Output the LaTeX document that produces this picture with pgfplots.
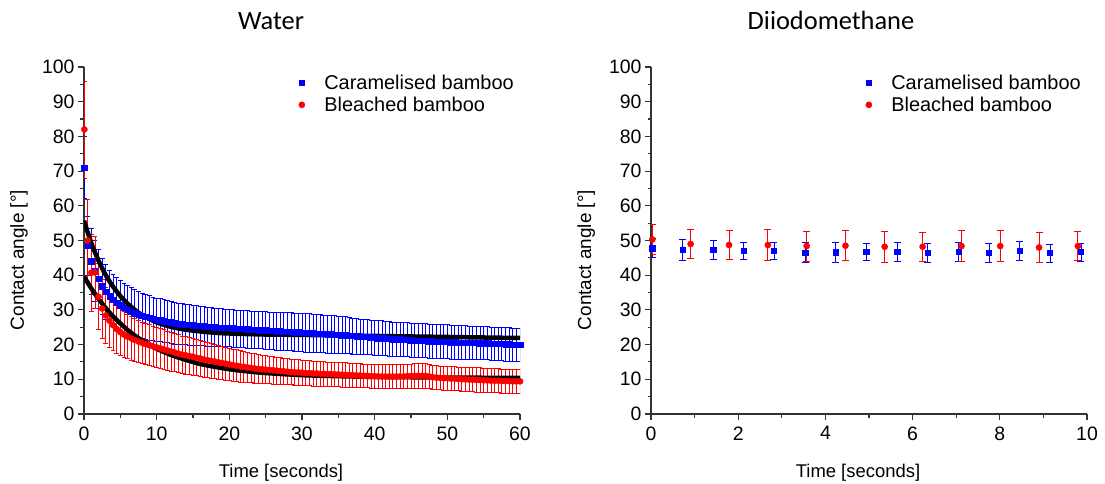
\documentclass[border=0pt]{standalone}
\usepackage{pgfplots}
\pgfplotsset{compat=1.18}
\usepackage{pgfplotstable}
\usepackage{fontspec}
\setmainfont{Liberation Sans}
\newfontfamily\titlefont{Carlito}

\definecolor{cblue}{RGB}{0,0,255}
\definecolor{cred}{RGB}{255,0,0}

% Water, caramelised bamboo: time, angle, sd
\pgfplotstableread{
x y e
0.05 71.0 9.0
0.5 48.5 8.5
1.0 44.0 9.5
1.5 41.2 8.8
2.0 39.0 8.5
2.5 36.8 8.0
3.0 35.2 7.8
3.5 33.9 7.6
4.0 32.9 7.4
4.5 32.0 7.3
5.0 31.3 7.2
5.5 30.6 7.1
6.0 30.0 7.0
6.5 29.5 6.9
7.0 29.1 6.8
7.5 28.7 6.7
8.0 28.3 6.6
8.5 28.0 6.5
9.0 27.7 6.4
9.5 27.4 6.3
10.0 27.2 6.2
10.5 27.0 6.2
11.0 26.8 6.1
11.5 26.6 6.1
12.0 26.4 6.0
12.5 26.2 6.0
13.0 26.1 5.9
13.5 25.9 5.9
14.0 25.8 5.8
14.5 25.7 5.8
15.0 25.6 5.7
15.5 25.5 5.7
16.0 25.4 5.6
16.5 25.3 5.6
17.0 25.2 5.6
17.5 25.1 5.5
18.0 25.0 5.5
18.5 24.9 5.5
19.0 24.9 5.5
19.5 24.8 5.4
20.0 24.8 5.4
20.5 24.7 5.4
21.0 24.6 5.4
21.5 24.5 5.4
22.0 24.5 5.4
22.5 24.4 5.4
23.0 24.3 5.4
23.5 24.3 5.4
24.0 24.2 5.4
24.5 24.2 5.4
25.0 24.1 5.4
25.5 24.0 5.4
26.0 24.0 5.4
26.5 23.9 5.5
27.0 23.9 5.5
27.5 23.8 5.5
28.0 23.8 5.5
28.5 23.7 5.5
29.0 23.6 5.5
29.5 23.6 5.5
30.0 23.5 5.5
30.5 23.4 5.5
31.0 23.4 5.5
31.5 23.3 5.5
32.0 23.2 5.4
32.5 23.2 5.4
33.0 23.1 5.4
33.5 23.0 5.4
34.0 23.0 5.4
34.5 22.9 5.4
35.0 22.8 5.3
35.5 22.7 5.3
36.0 22.7 5.3
36.5 22.6 5.2
37.0 22.5 5.2
37.5 22.4 5.2
38.0 22.3 5.1
38.5 22.3 5.1
39.0 22.2 5.1
39.5 22.1 5.0
40.0 22.0 5.0
40.5 21.9 5.0
41.0 21.9 5.0
41.5 21.8 5.0
42.0 21.7 5.0
42.5 21.6 4.9
43.0 21.6 4.9
43.5 21.5 4.9
44.0 21.4 4.9
44.5 21.4 4.9
45.0 21.3 4.9
45.5 21.2 4.9
46.0 21.2 4.9
46.5 21.1 4.9
47.0 21.1 4.9
47.5 21.0 4.9
48.0 21.0 4.9
48.5 20.9 4.9
49.0 20.9 4.9
49.5 20.8 4.9
50.0 20.8 4.9
50.5 20.7 4.9
51.0 20.7 4.9
51.5 20.6 4.8
52.0 20.6 4.8
52.5 20.6 4.8
53.0 20.5 4.8
53.5 20.5 4.8
54.0 20.5 4.8
54.5 20.4 4.8
55.0 20.4 4.8
55.5 20.4 4.8
56.0 20.3 4.8
56.5 20.3 4.8
57.0 20.2 4.8
57.5 20.2 4.8
58.0 20.1 4.8
58.5 20.1 4.8
59.0 20.0 4.8
59.5 20.0 4.8
60.0 20.0 4.8
}\watercar

% Water, bleached bamboo
\pgfplotstableread{
x y e
0.05 82.0 14.0
0.5 50.0 11.8
1.0 40.7 11.2
1.5 40.8 10.5
2.0 33.8 9.5
2.5 30.4 8.5
3.0 28.4 8.0
3.5 26.9 7.6
4.0 25.6 7.2
4.5 24.5 7.0
5.0 23.6 6.8
5.5 22.9 6.6
6.0 22.3 6.4
6.5 21.8 6.3
7.0 21.3 6.2
7.5 20.9 6.1
8.0 20.5 6.0
8.5 20.1 5.9
9.0 19.8 5.9
9.5 19.5 5.8
10.0 19.2 5.8
10.5 18.9 5.7
11.0 18.6 5.7
11.5 18.3 5.6
12.0 18.0 5.6
12.5 17.7 5.5
13.0 17.4 5.5
13.5 17.1 5.4
14.0 16.9 5.4
14.5 16.7 5.3
15.0 16.5 5.3
15.5 16.2 5.2
16.0 16.0 5.1
16.5 15.7 5.1
17.0 15.5 5.0
17.5 15.3 5.0
18.0 15.1 4.9
18.5 14.9 4.9
19.0 14.7 4.8
19.5 14.5 4.8
20.0 14.3 4.7
20.5 14.1 4.6
21.0 13.9 4.6
21.5 13.7 4.5
22.0 13.6 4.5
22.5 13.4 4.4
23.0 13.3 4.3
23.5 13.1 4.3
24.0 13.0 4.2
24.5 12.9 4.1
25.0 12.8 4.1
25.5 12.7 4.0
26.0 12.6 4.0
26.5 12.5 3.9
27.0 12.4 3.9
27.5 12.3 3.8
28.0 12.2 3.8
28.5 12.1 3.7
29.0 12.0 3.7
29.5 12.0 3.7
30.0 11.9 3.6
30.5 11.8 3.6
31.0 11.8 3.6
31.5 11.7 3.6
32.0 11.7 3.6
32.5 11.6 3.5
33.0 11.6 3.5
33.5 11.5 3.5
34.0 11.5 3.5
34.5 11.4 3.5
35.0 11.4 3.5
35.5 11.3 3.5
36.0 11.3 3.5
36.5 11.2 3.5
37.0 11.2 3.5
37.5 11.1 3.4
38.0 11.1 3.4
38.5 11.0 3.4
39.0 11.0 3.4
39.5 10.9 3.4
40.0 10.9 3.4
40.5 10.8 3.4
41.0 10.8 3.4
41.5 10.8 3.4
42.0 10.8 3.4
42.5 10.8 3.4
43.0 10.8 3.4
43.5 10.8 3.4
44.0 10.8 3.5
44.5 10.9 3.5
45.0 10.9 3.5
45.5 11.0 3.5
46.0 11.0 3.5
46.5 11.0 3.5
47.0 11.0 3.5
47.5 10.8 3.4
48.0 10.6 3.4
48.5 10.5 3.4
49.0 10.4 3.4
49.5 10.3 3.4
50.0 10.3 3.4
50.5 10.2 3.4
51.0 10.2 3.4
51.5 10.1 3.4
52.0 10.0 3.4
52.5 10.0 3.4
53.0 9.9 3.4
53.5 9.9 3.5
54.0 9.8 3.5
54.5 9.8 3.5
55.0 9.7 3.5
55.5 9.7 3.5
56.0 9.6 3.5
56.5 9.6 3.5
57.0 9.6 3.5
57.5 9.5 3.5
58.0 9.5 3.5
58.5 9.5 3.5
59.0 9.4 3.5
59.5 9.4 3.5
60.0 9.4 3.5
}\waterble

% fitted curves
\pgfplotstableread{
x y
0 55.7
1 49.3
2 44.2
3 40.0
4 36.7
5 34.0
6 31.8
7 30.0
8 28.5
9 27.4
10 26.4
12 25.1
14 24.3
16 23.8
18 23.4
20 23.2
25 22.9
30 22.8
40 22.5
50 22.2
60 21.9
}\fitcar

\pgfplotstableread{
x y
0 39.6
1 36.2
2 33.2
3 30.5
4 28.1
5 26.1
6 24.2
7 22.6
8 21.2
9 20.0
10 18.8
12 17.0
14 15.6
16 14.4
18 13.6
20 12.9
22 12.4
25 11.8
30 11.2
35 10.9
40 10.7
50 10.5
60 10.4
}\fitble

% Diiodomethane
\pgfplotstableread{
x y e
0.03 47.8 2.7
0.72 47.3 3.0
1.43 47.3 2.8
2.13 47.0 2.5
2.82 47.0 2.4
3.54 46.5 2.9
4.24 46.6 2.8
4.94 46.8 2.5
5.65 46.8 2.7
6.35 46.5 2.7
7.06 46.7 2.8
7.75 46.5 2.8
8.45 47.0 2.8
9.15 46.4 2.6
9.86 46.7 2.6
}\diicar

\pgfplotstableread{
x y e
0.03 50.3 4.2
0.91 49.0 4.2
1.79 48.7 4.2
2.68 48.7 4.4
3.57 48.4 4.3
4.46 48.5 4.3
5.36 48.2 4.4
6.23 48.2 4.2
7.12 48.4 4.4
8.01 48.4 4.4
8.90 48.0 4.4
9.79 48.4 4.2
}\diible

\pgfplotsset{
  panel/.style={
    scale only axis,
    width=436bp, height=347bp,
    axis x line=bottom, axis y line=left,
    axis line style={-, line width=1.1bp, black!80},
    tick style={line width=1.1bp, black!80},
    tick align=outside,
    major tick length=6bp, minor tick length=3.5bp,
    ymin=0, ymax=100, ytick={0,10,...,100}, minor y tick num=1,
    /pgf/number format/assume math mode=true,
    tick label style={font=\fontsize{19.5}{21}\selectfont},
    xticklabel style={yshift=-3bp},
    legend style={draw=none, fill=none, inner sep=0pt,
      font=\fontsize{20}{23}\selectfont,
      at={(axis description cs:0.49,0.982)}, anchor=north west,
      row sep=3bp,
      nodes={inner sep=1.5bp}},
    legend cell align=left,
    legend image code/.code={\path[draw=none] (-4bp,0bp) -- (21bp,0bp); \draw[#1] plot coordinates {(0bp,0bp)};},
  },
  carmark/.style={only marks, mark=square*, cblue, mark size=2.7bp},
  blemark/.style={only marks, mark=*, cred, mark size=3.1bp},
}

\begin{document}
\begin{tikzpicture}
\useasboundingbox (-84bp,-70bp) rectangle (1021bp,414bp);

% ---------------- Water ----------------
\begin{axis}[panel,
  xmin=0, xmax=60, xtick={0,10,...,60}, minor x tick num=1,
]
\addlegendimage{carmark}
\addlegendentry{Caramelised bamboo}
\addlegendimage{blemark}
\addlegendentry{Bleached bamboo}

\addplot[carmark, forget plot,
  error bars/.cd, y dir=both, y explicit,
  error bar style={line width=0.75bp, cblue},
  error mark options={rotate=90, line width=0.75bp, mark size=2.4bp, cblue}]
  table[x=x, y=y, y error=e] {\watercar};
\addplot[blemark, forget plot,
  error bars/.cd, y dir=both, y explicit,
  error bar style={line width=0.75bp, cred},
  error mark options={rotate=90, line width=0.75bp, mark size=2.4bp, cred}]
  table[x=x, y=y, y error=e] {\waterble};

\addplot[black, line width=4.5bp, smooth, forget plot] table[x=x, y=y] {\fitcar};
\addplot[black, line width=4.5bp, smooth, forget plot] table[x=x, y=y] {\fitble};
\end{axis}

% ---------------- Diiodomethane ----------------
\begin{axis}[panel, at={(567bp,0bp)},
  xmin=0, xmax=10, xtick={0,2,...,10}, minor x tick num=1,
]
\addlegendimage{carmark}
\addlegendentry{Caramelised bamboo}
\addlegendimage{blemark}
\addlegendentry{Bleached bamboo}

\addplot[carmark, forget plot,
  error bars/.cd, y dir=both, y explicit,
  error bar style={line width=0.8bp, cblue},
  error mark options={rotate=90, line width=0.8bp, mark size=3.5bp, cblue}]
  table[x=x, y=y, y error=e] {\diicar};
\addplot[blemark, forget plot,
  error bars/.cd, y dir=both, y explicit,
  error bar style={line width=0.8bp, cred},
  error mark options={rotate=90, line width=0.8bp, mark size=3.5bp, cred}]
  table[x=x, y=y, y error=e] {\diible};
\end{axis}

% titles and axis labels
\node[font=\titlefont\fontsize{26.5}{30}\selectfont, anchor=base] at (187bp,384bp) {Water};
\node[font=\titlefont\fontsize{26.5}{30}\selectfont, anchor=base] at (747bp,384bp) {Diiodomethane};
\node[font=\fontsize{18.5}{20}\selectfont, anchor=base] at (197bp,-63bp) {Time [seconds]};
\node[font=\fontsize{18.5}{20}\selectfont, anchor=base] at (774bp,-63bp) {Time [seconds]};
\node[font=\fontsize{19}{20}\selectfont, anchor=base, rotate=90] at (-60bp,154bp) {Contact angle [°]};
\node[font=\fontsize{19}{20}\selectfont, anchor=base, rotate=90] at (507bp,154bp) {Contact angle [°]};
\end{tikzpicture}
\end{document}
